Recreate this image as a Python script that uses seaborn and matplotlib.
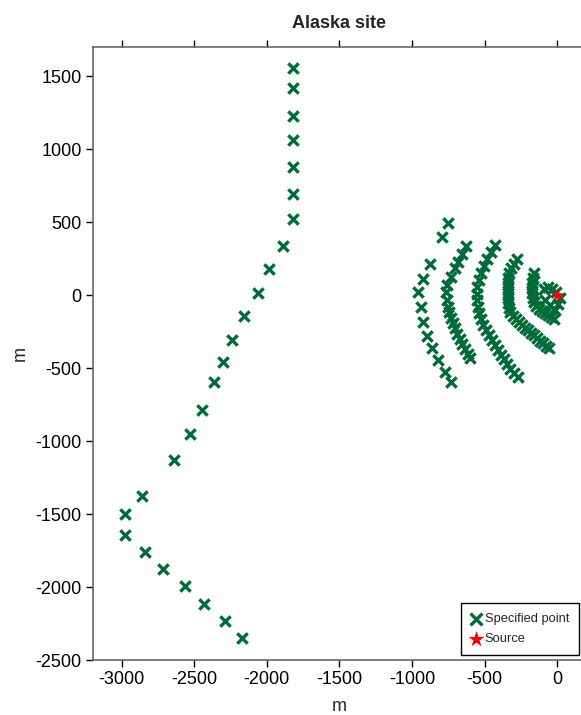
import numpy as np
import pandas as pd
import matplotlib
matplotlib.use("Agg")
import matplotlib.pyplot as plt
import seaborn as sns

# far line of specified points (m)
line_x = [-1818, -1818, -1818, -1818, -1818, -1818, -1818,
          -1887, -1983, -2061, -2156, -2238, -2305, -2362, -2445, -2532, -2638,
          -2860, -2977, -2980, -2840, -2713, -2564, -2433, -2291, -2169]
line_y = [1555, 1416, 1228, 1062, 877, 694, 521,
          338, 180, 14, -144, -310, -461, -598, -788, -952, -1128,
          -1375, -1500, -1646, -1762, -1875, -1995, -2114, -2235, -2349]

# arcs around the source (m)
arc1_x = [-755, -797, -877, -923, -962, -941, -927, -900, -866, -820, -771, -732]
arc1_y = [495, 400, 212, 110, 23, -80, -183, -281, -365, -445, -525, -594]

arc2_x = [-627, -654, -682, -702, -730, -758, -764, -758, -751, -744, -730,
          -716, -702, -689, -668, -654, -634, -613, -599]
arc2_y = [339, 284, 229, 188, 127, 72, 24, -31, -79, -113, -154,
          -188, -223, -264, -298, -332, -366, -401, -428]

arc3_x = [-427, -455, -482, -503, -523, -537, -551, -551, -551, -544, -537,
          -523, -510, -489, -468, -448, -427, -406, -386, -365, -344, -324, -296, -269]
arc3_y = [346, 298, 250, 202, 154, 106, 58, 10, -31, -79, -120,
          -161, -202, -236, -271, -305, -339, -373, -408, -435, -469, -503, -530, -558]

arc4_x = [-275, -296, -317, -331, -337, -337, -337, -337, -337, -337, -331, -324,
          -303, -282, -262, -241, -220, -200, -179, -158, -138, -117, -96, -76, -55]
arc4_y = [250, 216, 188, 154, 120, 86, 51, 17, -17, -51, -86, -113,
          -140, -161, -182, -202, -223, -236, -257, -271, -291, -312, -325, -346, -360]

arc5_x = [-158, -165, -172, -172, -172, -165, -158, -145, -124, -103, -83, -62, -41, -21,
          -90, -62, -34, -7, 21, 7, -14, -48, -83]
arc5_y = [154, 120, 86, 51, 17, -17, -45, -72, -92, -106, -120, -134, -147, -161,
          45, 58, 45, 24, -17, -58, -99, -65, -31]

source_x = [0]
source_y = [0]

pts = pd.DataFrame({
    "x": line_x + arc1_x + arc2_x + arc3_x + arc4_x + arc5_x,
    "y": line_y + arc1_y + arc2_y + arc3_y + arc4_y + arc5_y,
})
src = pd.DataFrame({"x": source_x, "y": source_y})

sns.set_style("ticks")
plt.rcParams["font.family"] = ["Liberation Sans", "DejaVu Sans"]
plt.rcParams["axes.unicode_minus"] = False

fig = plt.figure(figsize=(5.81, 7.15), dpi=100)
ax = fig.add_axes([0.1594, 0.0769, 0.8497, 0.8573])

green = "#006b3a"
sns.scatterplot(data=pts, x="x", y="y", ax=ax, marker="x", color=green,
                s=55, linewidth=2.4, label="Specified point", zorder=3)
sns.scatterplot(data=src, x="x", y="y", ax=ax, marker="*", color="red",
                s=110, linewidth=0, label="Source", zorder=4)

ax.set_xlim(-3200, 200)
ax.set_ylim(-2500, 1700)
ax.set_xticks(np.arange(-3000, 1, 500))
ax.set_yticks(np.arange(-2500, 1501, 500))
ax.tick_params(direction="out", length=5, width=1, colors="black",
               labelsize=13, top=True, right=True, pad=3)
ax.tick_params(axis="x", labeltop=False)
for sp in ax.spines.values():
    sp.set_visible(True)
    sp.set_color("#666666")
    sp.set_linewidth(1.2)

ax.set_title("Alaska site", fontsize=13, fontweight="bold", pad=14)
ax.set_xlabel("m", fontsize=13, labelpad=7)
ax.set_ylabel("m", fontsize=13, labelpad=5)

leg = ax.legend(loc="lower right", bbox_to_anchor=(0.985, 0.008), fontsize=9.3,
                frameon=True, fancybox=False, handletextpad=0.3, handlelength=0.8,
                borderpad=0.75, labelspacing=0.65, borderaxespad=0, markerscale=1.15)
leg.get_frame().set_edgecolor("black")
leg.get_frame().set_linewidth(1.0)
leg.get_frame().set_alpha(1)

fig.savefig("out.png", dpi=100)
